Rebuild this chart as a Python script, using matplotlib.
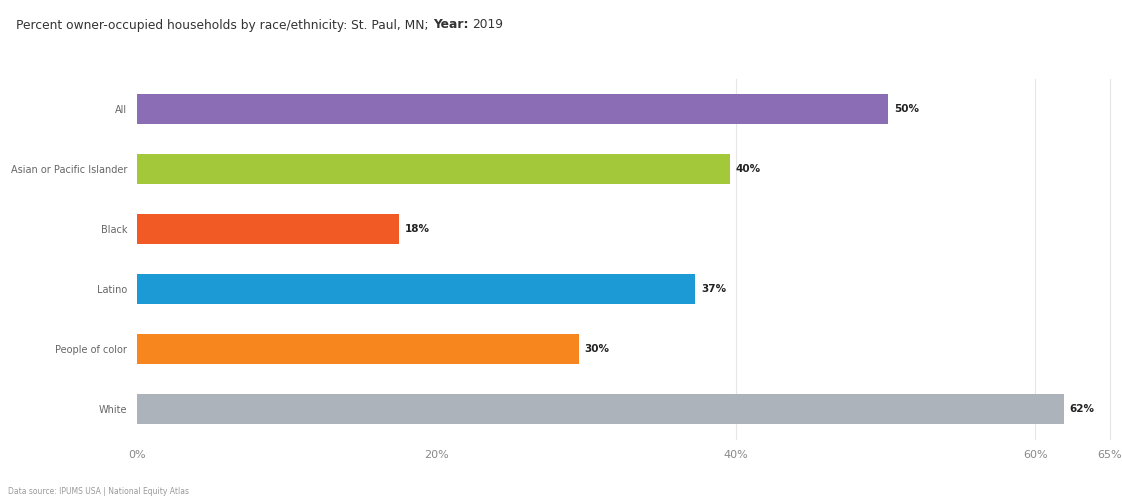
import numpy as np
import matplotlib.pyplot as plt

categories = ['All', 'Asian or Pacific Islander', 'Black', 'Latino', 'People of color', 'White']
values = [50.2, 39.6, 17.5, 37.3, 29.5, 61.9]
labels = ['50%', '40%', '18%', '37%', '30%', '62%']
colors = ['#8a6db5', '#a3c83a', '#f15a24', '#1b9ad6', '#f7861f', '#adb3ba']
xticks = [0, 20, 40, 60, 65]

fig = plt.figure(figsize=(11.22, 5.03), dpi=100)
ax = fig.add_axes([137 / 1122, 1 - 439 / 503, (1110 - 137) / 1122, 360 / 503])

y = np.arange(len(categories))
ax.barh(y, values, height=0.5, color=colors, zorder=3)
for yi, v, lab in zip(y, values, labels):
    ax.text(v + 0.4, yi, lab, va='center', ha='left', fontsize=7.5,
            fontweight='bold', color='#222222', zorder=4)

ax.set_xlim(0, 65)
ax.set_ylim(len(categories) - 0.5, -0.5)
ax.set_yticks(y)
ax.set_yticklabels(categories, fontsize=7, color='#666666')
ax.set_xticks(xticks)
ax.set_xticklabels([f'{t}%' for t in xticks], fontsize=8, color='#888888')
ax.tick_params(axis='both', length=0)
ax.tick_params(axis='x', pad=8)
ax.tick_params(axis='y', pad=7)
for t in xticks[2:]:
    ax.axvline(t, color='#e6e6e6', linewidth=0.8, zorder=1, clip_on=False)
for s in ax.spines.values():
    s.set_visible(False)

# title: regular part, then bold "Year:" and the year, chained after each other
title = fig.text(16 / 1122, 1 - 25 / 503,
                 'Percent owner-occupied households by race/ethnicity: St. Paul, MN;',
                 fontsize=8.8, color='#333333', va='center', ha='left')
year_lbl = ax.annotate('Year:', xy=(1, 0.5), xycoords=title, xytext=(3, 0),
                       textcoords='offset points', fontsize=8.8, fontweight='bold',
                       color='#333333', va='center', ha='left', annotation_clip=False)
ax.annotate('2019', xy=(1, 0.5), xycoords=year_lbl, xytext=(3, 0), textcoords='offset points',
            fontsize=8.8, color='#333333', va='center', ha='left', annotation_clip=False)
fig.text(8 / 1122, 1 - 492 / 503, 'Data source: IPUMS USA | National Equity Atlas',
         fontsize=5.5, color='#999999', va='center', ha='left')

fig.savefig('out.png', dpi=100, facecolor='white')
